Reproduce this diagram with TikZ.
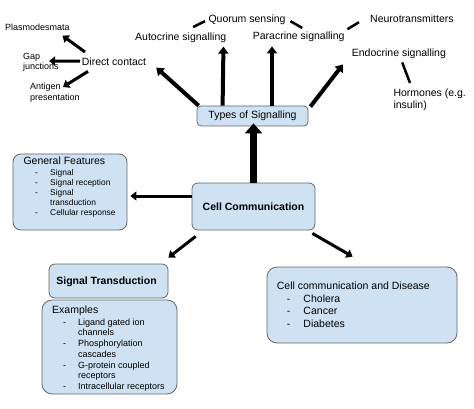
\documentclass[tikz,border=0pt]{standalone}
\usepackage{fontspec}
\setmainfont{Liberation Sans}
\usetikzlibrary{arrows.meta,calc}
\definecolor{boxblue}{HTML}{CFE2F3}
\definecolor{boxline}{HTML}{666666}
\begin{document}
\begin{tikzpicture}[x=1pt,y=-1pt,
  lbl/.style={inner sep=0pt, anchor=north west, font=\fontsize{10.5}{12.5}\selectfont, text height=7.7pt, text depth=2.2pt},
  sml/.style={inner sep=0pt, anchor=north west, align=left, font=\fontsize{9}{10.5}\selectfont},
  box/.style={draw=boxline, line width=0.8pt, fill=boxblue, inner sep=0pt, font=\fontsize{10.5}{12.5}\selectfont},
  arr/.style={line width=3pt, -{Triangle[length=6pt,width=9pt]}},
  thk/.style={line width=4pt, -{Triangle[length=7pt,width=10pt]}},
  big/.style={line width=7pt, -{Triangle[length=10pt,width=17pt]}},
  lnk/.style={line width=2.5pt},
]
\useasboundingbox (0,0) rectangle (474,409);

% boxes
\node[box, rounded corners=4pt, minimum width=111pt, minimum height=20pt] (types) at (252.5,116) {Types of Signalling};
\node[box, rounded corners=6pt, minimum width=123pt, minimum height=47pt, font=\fontsize{10.5}{12.5}\selectfont\bfseries] (cc) at (253.5,206.5) {Cell Communication};
\node[box, rounded corners=8pt, minimum width=114pt, minimum height=76pt] (gf) at (70,192) {};
\node[box, rounded corners=6pt, minimum width=119pt, minimum height=34pt] (st) at (108.5,281) {};
\node[box, rounded corners=10pt, minimum width=135pt, minimum height=94pt] (ex) at (109.5,347) {};
\node[box, rounded corners=10pt, minimum width=190pt, minimum height=76pt] (dis) at (362,305) {};

% box texts
\node[inner sep=0pt, font=\fontsize{10.5}{12.5}\selectfont\bfseries, text height=7.7pt, text depth=2.2pt] (stt) at (106.5,282) {Signal Transduction};
\node[lbl] (gfh) at (23.3,156.7) {General Features};
\node[inner sep=0pt, anchor=north west, align=left, font=\fontsize{8.4}{10}\selectfont] (gfl) at (35,169.3)
  {\makebox[15pt][l]{-}Signal\\
   \makebox[15pt][l]{-}Signal reception\\
   \makebox[15pt][l]{-}Signal\\
   \hspace*{15pt}transduction\\
   \makebox[15pt][l]{-}Cellular response};
\node[lbl] (exh) at (52,306) {Examples};
\node[inner sep=0pt, anchor=north west, align=left, font=\fontsize{9}{10.7}\selectfont] (exl) at (63,318.5)
  {\makebox[15pt][l]{-}Ligand gated ion\\
   \hspace*{15pt}channels\\
   \makebox[15pt][l]{-}Phosphorylation\\
   \hspace*{15pt}cascades\\
   \makebox[15pt][l]{-}G-protein coupled\\
   \hspace*{15pt}receptors\\
   \makebox[15pt][l]{-}Intracellular receptors};
\node[inner sep=0pt, anchor=north west, align=left, font=\fontsize{10.5}{12.5}\selectfont] (disl) at (276.7,281.7)
  {Cell communication and Disease\\
   \hspace*{10pt}\makebox[16.6pt][l]{-}Cholera\\
   \hspace*{10pt}\makebox[16.6pt][l]{-}Cancer\\
   \hspace*{10pt}\makebox[16.6pt][l]{-}Diabetes};

% free labels
\node[lbl] (dc) at (81.7,57.3) {Direct contact};
\node[lbl] (auto) at (135,32.3) {Autocrine signalling};
\node[lbl] (quor) at (208.3,15) {Quorum sensing};
\node[lbl] (para) at (252.7,31.7) {Paracrine signalling};
\node[lbl] (neuro) at (370,15) {Neurotransmitters};
\node[lbl] (endo) at (351.7,48.3) {Endocrine signalling};
\node[inner sep=0pt, anchor=north west, align=left, font=\fontsize{10.5}{12}\selectfont] (horm) at (393.3,88.3) {Hormones (e.g.\\insulin)};
\node[sml] (pl) at (5,23.3) {Plasmodesmata};
\node[sml] (gap) at (23,53) {Gap\\junctions};
\node[sml] (ant) at (30,83) {Antigen\\presentation};

% arrows from Types of Signalling
\draw[thk] ($(types.north west)+(2,0)$) -- ($(dc.south east)+(10,0)$);
\draw[thk] ($(types.north west)+(26,0)$) -- ($(auto.south east)+(-3,4)$);
\draw[thk] ($(types.north)+(19.5,0)$) -- ($(para.south west)+(19.3,4.4)$);
\draw[thk] ($(types.north east)+(2,1)$) -- ($(endo.south west)+(-8.7,5.8)$);

% arrows from Direct contact
\draw[arr] ($(dc.north west)+(3.3,-5.3)$) -- ($(pl.south east)+(-7.5,5.3)$);
\draw[arr] ($(dc.west)+(-1.7,-1.25)$) -- ($(gap.north west)+(26,8)$);
\draw[arr] ($(dc.south west)+(6.3,3.8)$) -- ($(ant.north west)+(33,4)$);

% plain links
\draw[lnk] ($(auto.north)+(12.5,-5.3)$) -- ($(quor.west)+(-3.3,1)$);
\draw[lnk] ($(quor.east)+(4.7,1)$) -- ($(para.north)+(3.5,-3.7)$);
\draw[lnk] ($(para.east)+(2.7,-7.6)$) -- ($(neuro.west)+(-11,2)$);
\draw[lnk] ($(endo.south)+(3.3,3.8)$) -- ($(horm.north west)+(16.7,-5.3)$);

% arrows from Cell Communication
\draw[big] (cc.north) -- ($(types.south)+(1,-3)$);
\draw[arr] ($(cc.west)+(0,-10.5)$) -- ($(gf.east)+(3,4)$);
\draw[arr] ($(cc.south west)+(4,6)$) -- ($(st.north east)+(0,-6)$);
\draw[arr] ($(cc.south east)+(-3,3)$) -- ($(dis.north west)+(86,-10)$);
\end{tikzpicture}
\end{document}
